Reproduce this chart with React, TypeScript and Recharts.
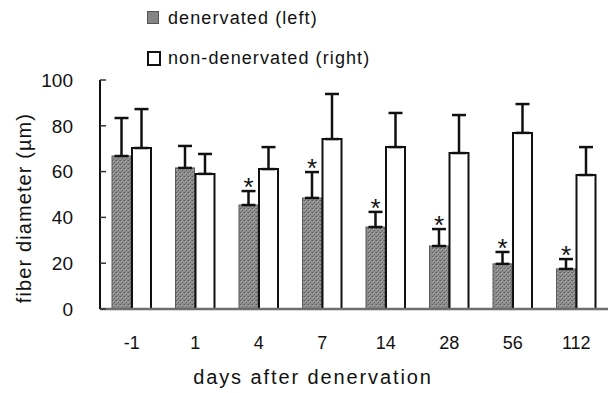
import React from 'react'
import { BarChart, Bar, XAxis, YAxis, ErrorBar, Label } from 'recharts'

const days = ['-1', '1', '4', '7', '14', '28', '56', '112']
const denervated = [66.8, 61.6, 45.4, 48.5, 35.8, 27.5, 19.7, 17.5]
const denervatedSd = [16.6, 9.6, 6.1, 11.3, 6.6, 7.4, 5.2, 4.3]
const nonDenervated = [70.3, 59, 61.1, 74.2, 70.7, 68.1, 76.9, 58.5]
const nonDenervatedSd = [17, 8.7, 9.6, 19.7, 14.9, 16.6, 12.6, 12.2]
const significant = [false, false, true, true, true, true, true, true]
const yTicks = [0, 20, 40, 60, 80, 100]

const data = days.map((day, i) => ({
  day,
  left: denervated[i],
  right: nonDenervated[i],
  leftErr: [0, denervatedSd[i]],
  rightErr: [0, nonDenervatedSd[i]],
  sig: significant[i],
}))

const FONT = '"Liberation Sans", Arial, Helvetica, sans-serif'
const Y_TICK_GAP = 27

// stippled gray bar, with the asterisk above the error cap when significant
function DenervatedBar(props: any) {
  const { x, y, width, height, payload } = props
  if (x == null || y == null) return null
  const capY = payload && payload.left ? y - (height * payload.leftErr[1]) / payload.left : y
  return (
    <g>
      <rect x={x} y={y} width={width} height={height} fill="url(#stipple)" stroke="#5a5a5a" strokeWidth={1} />
      {payload?.sig && (
        <text x={x + width / 2} y={capY + 5} textAnchor="middle" fontSize={26} fontFamily={FONT} fill="#111">
          *
        </text>
      )}
    </g>
  )
}

// tick label plus a short inward tick mark on the axis
function YTick(props: any) {
  const { x, y, payload } = props
  const ax = x + Y_TICK_GAP
  return (
    <g>
      <line x1={ax} x2={ax + 6} y1={y} y2={y} stroke="#333" strokeWidth={1.5} />
      <text x={x} y={y} dy="0.36em" textAnchor="end" fontSize={19} fontFamily={FONT} fill="#111">
        {payload.value}
      </text>
    </g>
  )
}

function YTitle() {
  const cx = 24
  const cy = 208
  return (
    <text
      x={cx}
      y={cy}
      transform={`rotate(-90, ${cx}, ${cy})`}
      textAnchor="middle"
      dominantBaseline="central"
      fontSize={20}
      letterSpacing={1.1}
      fontFamily={FONT}
      fill="#111"
    >
      fiber diameter (µm)
    </text>
  )
}

function XTitle() {
  return (
    <text x={313} y={384} textAnchor="middle" fontSize={20} letterSpacing={1.9} fontFamily={FONT} fill="#111">
      days after denervation
    </text>
  )
}

const legendText: React.CSSProperties = {
  position: 'absolute',
  left: 168,
  fontSize: 18,
  letterSpacing: 1.1,
  fontFamily: FONT,
  color: '#111',
  lineHeight: '20px',
  whiteSpace: 'nowrap',
}

export default function App() {
  return (
    <div style={{ position: 'absolute', left: 0, top: 0, width: 609, height: 393, background: '#fff' }}>
      <div style={{ position: 'absolute', left: 147, top: 11, width: 10, height: 11, border: '1.5px solid #555', background: '#858585' }} />
      <div style={{ ...legendText, top: 8 }}>denervated (left)</div>
      <div style={{ position: 'absolute', left: 147, top: 51, width: 10, height: 11, border: '2px solid #111', background: '#fff' }} />
      <div style={{ ...legendText, top: 48 }}>non-denervated (right)</div>

      <BarChart
        width={609}
        height={393}
        data={data}
        margin={{ top: 80, right: 1, bottom: 0, left: 0 }}
        barSize={19}
        barGap={1}
        style={{ position: 'absolute', left: 0, top: 0 }}
      >
        <defs>
          <pattern id="stipple" width={4} height={4} patternUnits="userSpaceOnUse">
            <rect width={4} height={4} fill="#929292" />
            <rect x={0} y={0} width={1} height={1} fill="#555" />
            <rect x={2} y={2} width={1} height={1} fill="#606060" />
            <rect x={3} y={0} width={1} height={1} fill="#757575" />
            <rect x={1} y={3} width={1} height={1} fill="#757575" />
            <rect x={1} y={1} width={1} height={1} fill="#a8a8a8" />
          </pattern>
        </defs>
        <XAxis
          dataKey="day"
          height={84}
          axisLine={{ stroke: '#6e6e6e', strokeWidth: 2.5 }}
          tickLine={false}
          tickSize={0}
          tickMargin={27}
          interval={0}
          tick={{ fontSize: 18, fill: '#111', fontFamily: FONT }}
        >
          <Label content={<XTitle />} />
        </XAxis>
        <YAxis
          width={100}
          domain={[0, 100]}
          ticks={yTicks}
          interval={0}
          axisLine={{ stroke: '#111', strokeWidth: 2 }}
          tickLine={false}
          tickSize={0}
          tickMargin={Y_TICK_GAP}
          tick={<YTick />}
        >
          <Label content={<YTitle />} />
        </YAxis>
        <Bar dataKey="left" name="denervated (left)" shape={<DenervatedBar />} isAnimationActive={false}>
          <ErrorBar dataKey="leftErr" direction="y" width={7} stroke="#111" strokeWidth={2.5} />
        </Bar>
        <Bar
          dataKey="right"
          name="non-denervated (right)"
          fill="#fff"
          stroke="#111"
          strokeWidth={2}
          isAnimationActive={false}
        >
          <ErrorBar dataKey="rightErr" direction="y" width={7} stroke="#111" strokeWidth={2.5} />
        </Bar>
      </BarChart>
    </div>
  )
}
